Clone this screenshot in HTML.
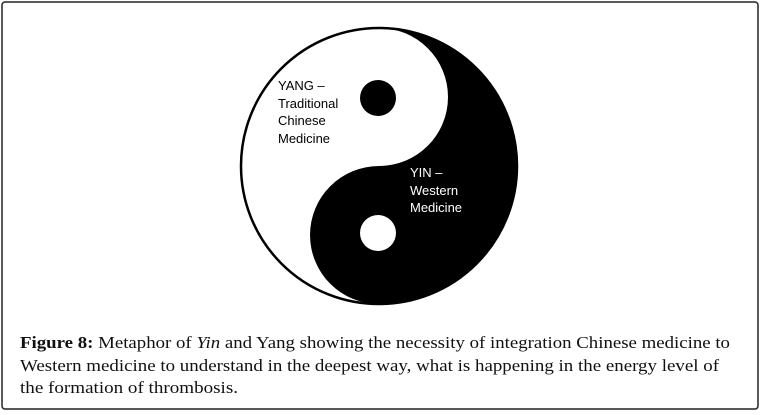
<!DOCTYPE html>
<html><head><style>
html,body{margin:0;padding:0;background:#fff;}
svg{display:block;}
</style></head><body>
<svg width="762" height="415" viewBox="0 0 762 415" xmlns="http://www.w3.org/2000/svg">
<rect x="2" y="2" width="756" height="407" rx="3" fill="#fff" stroke="#222" stroke-width="1.5"/>
<circle cx="379" cy="166" r="138" fill="#fff" stroke="#000" stroke-width="2.5"/>
<path d="M379 28 A138 138 0 0 1 379 304 A69 69 0 0 1 379 166 A69 69 0 0 0 379 28 Z" fill="#000"/>
<circle cx="378" cy="98" r="18" fill="#000"/>
<circle cx="378" cy="233" r="18" fill="#fff"/>
<g font-family="Liberation Sans, sans-serif" font-size="13">
<text x="278" y="90" fill="#000">YANG –</text>
<text x="278" y="108" fill="#000">Traditional</text>
<text x="278" y="125" fill="#000">Chinese</text>
<text x="278" y="143" fill="#000">Medicine</text>
<text x="410" y="177" fill="#fff">YIN –</text>
<text x="410" y="195" fill="#fff">Western</text>
<text x="410" y="212" fill="#fff">Medicine</text>
</g>
<g font-family="Liberation Serif, serif" font-size="17" fill="#111">
<text x="20" y="348" textLength="710" lengthAdjust="spacingAndGlyphs"><tspan font-weight="bold">Figure 8:</tspan> Metaphor of <tspan font-style="italic">Yin</tspan> and Yang showing the necessity of integration Chinese medicine to</text>
<text x="20" y="371" textLength="699" lengthAdjust="spacingAndGlyphs">Western medicine to understand in the deepest way, what is happening in the energy level of</text>
<text x="20" y="393" textLength="218" lengthAdjust="spacingAndGlyphs">the formation of thrombosis.</text>
</g>
</svg>
</body></html>
